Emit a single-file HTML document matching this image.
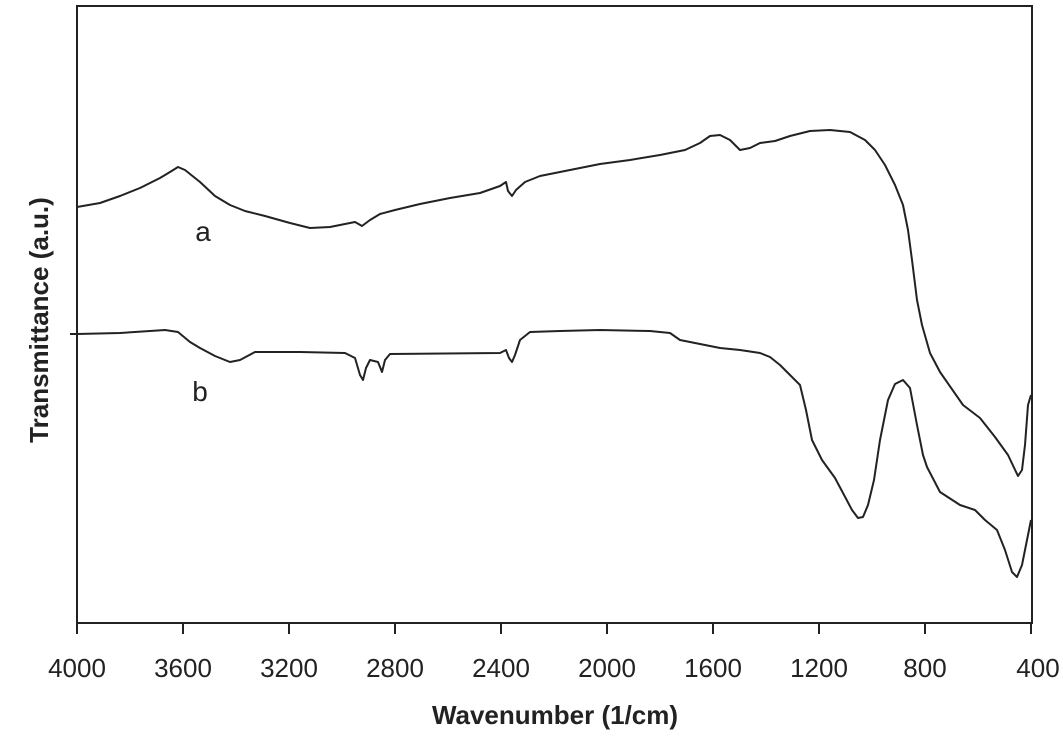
<!DOCTYPE html>
<html><head><style>body{margin:0;background:#fff}</style></head><body>
<svg width="1063" height="738" xmlns="http://www.w3.org/2000/svg" style="font-family:'Liberation Sans',Arial,sans-serif">
<rect x="77" y="6" width="955" height="617" fill="none" stroke="#222" stroke-width="2"/>
<g stroke="#222" stroke-width="2">
<line x1="77" y1="623" x2="77" y2="634"/><line x1="183" y1="623" x2="183" y2="634"/><line x1="289" y1="623" x2="289" y2="634"/><line x1="395" y1="623" x2="395" y2="634"/><line x1="501" y1="623" x2="501" y2="634"/><line x1="607" y1="623" x2="607" y2="634"/><line x1="713" y1="623" x2="713" y2="634"/><line x1="819" y1="623" x2="819" y2="634"/><line x1="925" y1="623" x2="925" y2="634"/><line x1="1031" y1="623" x2="1031" y2="634"/>
<line x1="70" y1="334" x2="77" y2="334"/>
</g>
<g font-size="26" fill="#222" text-anchor="middle">
<text x="77" y="677">4000</text><text x="183" y="677">3600</text><text x="289" y="677">3200</text><text x="395" y="677">2800</text><text x="501" y="677">2400</text><text x="607" y="677">2000</text><text x="713" y="677">1600</text><text x="819" y="677">1200</text><text x="925" y="677">800</text><text x="1038" y="677">400</text>
</g>
<text x="555" y="724" font-size="26" font-weight="bold" text-anchor="middle" fill="#222">Wavenumber (1/cm)</text>
<text transform="translate(48,320) rotate(-90)" font-size="26" font-weight="bold" text-anchor="middle" fill="#222">Transmittance (a.u.)</text>
<text x="203" y="241" font-size="28" text-anchor="middle" fill="#222">a</text>
<text x="200" y="401" font-size="28" text-anchor="middle" fill="#222">b</text>
<g fill="none" stroke="#222" stroke-width="2" stroke-linejoin="round">
<polyline points="77,207 100,203 120,196 140,188 160,178 170,172 178,167 185,170 200,182 215,196 230,205 245,211 265,216 290,223 310,228 330,227 345,224 355,222 362,226 370,220 380,214 395,210 420,204 450,198 480,193 500,186 506,182 508,191 512,196 516,190 525,182 540,176 570,170 600,164 630,160 660,155 685,150 700,143 710,136 720,135 730,140 740,150 750,148 760,143 775,141 790,136 810,131 830,130 850,132 865,140 875,150 885,165 895,185 903,205 908,230 912,260 917,300 922,325 930,353 940,372 963,405 980,418 995,437 1008,455 1018,476 1022,470 1025,445 1028,405 1031,395"/>
<polyline points="77,334 120,333 150,331 165,330 178,332 190,342 200,348 215,356 230,362 240,360 255,352 300,352 345,353 355,358 360,375 363,380 366,368 370,360 378,362 382,372 385,360 390,354 500,353 506,350 509,358 512,362 515,355 520,340 530,332 560,331 600,330 650,331 670,333 680,340 700,344 720,348 740,350 760,353 770,357 780,365 790,375 800,385 806,410 812,440 822,460 835,478 843,493 852,510 858,518 863,517 868,505 874,480 880,440 888,400 895,384 903,380 910,388 917,425 923,455 927,467 940,492 960,505 975,510 985,520 997,530 1005,550 1012,572 1017,577 1022,565 1026,545 1029,530 1031,520"/>
</g>
</svg>
</body></html>
